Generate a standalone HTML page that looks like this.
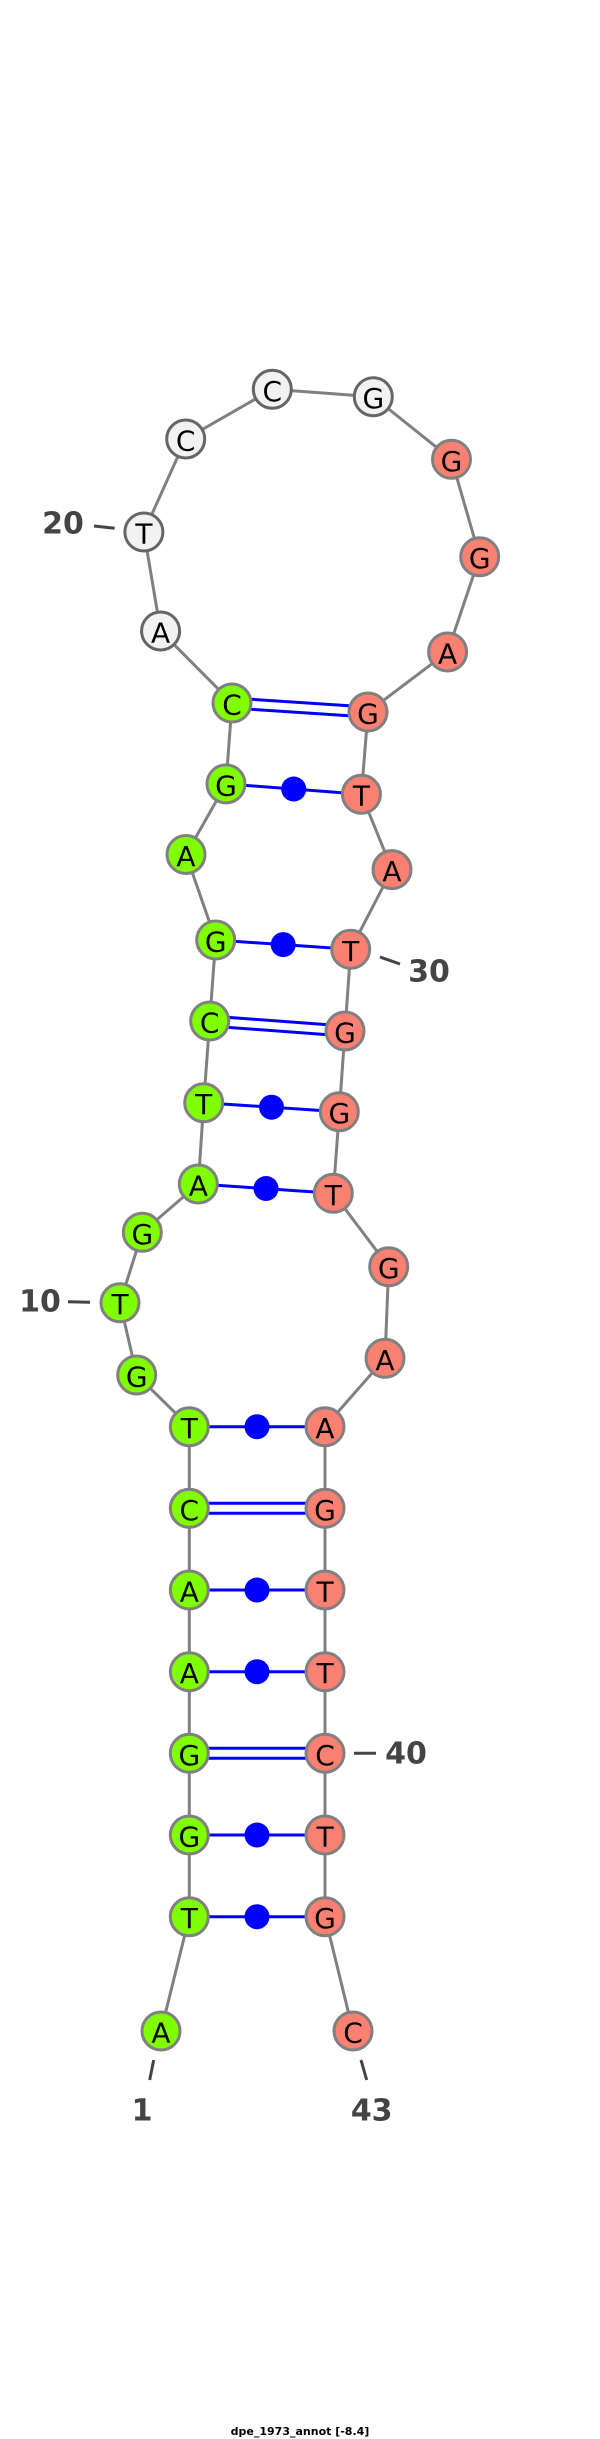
<!DOCTYPE html>
<html><head><meta charset="utf-8"><style>
html,body{margin:0;padding:0;background:#fff;}
svg{display:block;}
.n text{font-family:"DejaVu Sans","Liberation Sans",sans-serif;font-size:28px;text-anchor:middle;dominant-baseline:central;fill:#000;}
.lab{font-family:"DejaVu Sans","Liberation Sans",sans-serif;font-weight:bold;font-size:30px;fill:#444;text-anchor:middle;dominant-baseline:central;}
</style></head><body>
<svg width="600" height="2439" viewBox="0 0 600 2439" xmlns="http://www.w3.org/2000/svg">
<polyline fill="none" stroke="#808080" stroke-width="3" points="161,2031 189.3,1916.7 189.3,1835 189.3,1753.3 189.3,1671.7 189.3,1590 189.3,1508.3 189.3,1426.7 136.7,1375 120,1302.7 142.3,1232.3 198.3,1184 203.7,1102.7 209.7,1021 215.7,940 186,854.5 226,783.9 232,703 160.6,631 143.9,532 185.7,439 272.3,389.3 373.3,396.7 451.5,459.3 479.7,556.7 447.6,652 368,712 361.4,794.2 392,869.6 350.7,949.3 345,1031 339.3,1111.7 333.3,1193.3 388.7,1266.7 385,1358.3 325,1426.7 325,1508.3 325,1590 325,1671.7 325,1753.3 325,1835 325,1916.7 353,2031"/>
<g stroke="#0000ff" stroke-width="3" fill="#0000ff">
<line x1="189.3" y1="1916.7" x2="325" y2="1916.7"/><circle cx="257" cy="1916.7" r="12.5" stroke="none"/>
<line x1="189.3" y1="1835" x2="325" y2="1835"/><circle cx="257" cy="1835" r="12.5" stroke="none"/>
<line x1="189.3" y1="1748.3" x2="325" y2="1748.3"/><line x1="189.3" y1="1758.3" x2="325" y2="1758.3"/>
<line x1="189.3" y1="1671.7" x2="325" y2="1671.7"/><circle cx="257" cy="1671.7" r="12.5" stroke="none"/>
<line x1="189.3" y1="1590" x2="325" y2="1590"/><circle cx="257" cy="1590" r="12.5" stroke="none"/>
<line x1="189.3" y1="1503.3" x2="325" y2="1503.3"/><line x1="189.3" y1="1513.3" x2="325" y2="1513.3"/>
<line x1="189.3" y1="1426.7" x2="325" y2="1426.7"/><circle cx="257" cy="1426.7" r="12.5" stroke="none"/>
<line x1="198.3" y1="1184" x2="333.3" y2="1193.3"/><circle cx="266" cy="1188.5" r="12.5" stroke="none"/>
<line x1="203.7" y1="1102.7" x2="339.3" y2="1111.7"/><circle cx="271.5" cy="1107.2" r="12.5" stroke="none"/>
<line x1="209.7" y1="1016" x2="345" y2="1026"/><line x1="209.7" y1="1026" x2="345" y2="1036"/>
<line x1="215.7" y1="940" x2="350.7" y2="949.3"/><circle cx="283.2" cy="944.6" r="12.5" stroke="none"/>
<line x1="226" y1="783.9" x2="361.4" y2="794.2"/><circle cx="293.7" cy="789" r="12.5" stroke="none"/>
<line x1="232" y1="698" x2="368" y2="707"/><line x1="232" y1="708" x2="368" y2="717"/>
</g>
<g class="n" stroke-width="3">
<g stroke="#808080" fill="#7fff00">
<circle cx="161" cy="2031" r="19"/><circle cx="189.3" cy="1916.7" r="19"/><circle cx="189.3" cy="1835" r="19"/><circle cx="189.3" cy="1753.3" r="19"/><circle cx="189.3" cy="1671.7" r="19"/><circle cx="189.3" cy="1590" r="19"/><circle cx="189.3" cy="1508.3" r="19"/><circle cx="189.3" cy="1426.7" r="19"/><circle cx="136.7" cy="1375" r="19"/><circle cx="120" cy="1302.7" r="19"/><circle cx="142.3" cy="1232.3" r="19"/><circle cx="198.3" cy="1184" r="19"/><circle cx="203.7" cy="1102.7" r="19"/><circle cx="209.7" cy="1021" r="19"/><circle cx="215.7" cy="940" r="19"/><circle cx="186" cy="854.5" r="19"/><circle cx="226" cy="783.9" r="19"/><circle cx="232" cy="703" r="19"/>
</g>
<g stroke="#666" fill="#f2f2f2">
<circle cx="160.6" cy="631" r="19"/><circle cx="143.9" cy="532" r="19"/><circle cx="185.7" cy="439" r="19"/><circle cx="272.3" cy="389.3" r="19"/><circle cx="373.3" cy="396.7" r="19"/>
</g>
<g stroke="#808080" fill="#fa8072">
<circle cx="451.5" cy="459.3" r="19"/><circle cx="479.7" cy="556.7" r="19"/><circle cx="447.6" cy="652" r="19"/><circle cx="368" cy="712" r="19"/><circle cx="361.4" cy="794.2" r="19"/><circle cx="392" cy="869.6" r="19"/><circle cx="350.7" cy="949.3" r="19"/><circle cx="345" cy="1031" r="19"/><circle cx="339.3" cy="1111.7" r="19"/><circle cx="333.3" cy="1193.3" r="19"/><circle cx="388.7" cy="1266.7" r="19"/><circle cx="385" cy="1358.3" r="19"/><circle cx="325" cy="1426.7" r="19"/><circle cx="325" cy="1508.3" r="19"/><circle cx="325" cy="1590" r="19"/><circle cx="325" cy="1671.7" r="19"/><circle cx="325" cy="1753.3" r="19"/><circle cx="325" cy="1835" r="19"/><circle cx="325" cy="1916.7" r="19"/><circle cx="353" cy="2031" r="19"/>
</g>
<text x="161" y="2033">A</text><text x="189.3" y="1918.7">T</text><text x="189.3" y="1837">G</text><text x="189.3" y="1755.3">G</text><text x="189.3" y="1673.7">A</text><text x="189.3" y="1592">A</text><text x="189.3" y="1510.3">C</text><text x="189.3" y="1428.7">T</text><text x="136.7" y="1377">G</text><text x="120" y="1304.7">T</text><text x="142.3" y="1234.3">G</text><text x="198.3" y="1186">A</text><text x="203.7" y="1104.7">T</text><text x="209.7" y="1023">C</text><text x="215.7" y="942">G</text><text x="186" y="856.5">A</text><text x="226" y="785.9">G</text><text x="232" y="705">C</text>
<text x="160.6" y="633">A</text><text x="143.9" y="534">T</text><text x="185.7" y="441">C</text><text x="272.3" y="391.3">C</text><text x="373.3" y="398.7">G</text>
<text x="451.5" y="461.3">G</text><text x="479.7" y="558.7">G</text><text x="447.6" y="654">A</text><text x="368" y="714">G</text><text x="361.4" y="796.2">T</text><text x="392" y="871.6">A</text><text x="350.7" y="951.3">T</text><text x="345" y="1033">G</text><text x="339.3" y="1113.7">G</text><text x="333.3" y="1195.3">T</text><text x="388.7" y="1268.7">G</text><text x="385" y="1360.3">A</text><text x="325" y="1428.7">A</text><text x="325" y="1510.3">G</text><text x="325" y="1592">T</text><text x="325" y="1673.7">T</text><text x="325" y="1755.3">C</text><text x="325" y="1837">T</text><text x="325" y="1918.7">G</text><text x="353" y="2033">C</text>
</g>
<g stroke="#444" stroke-width="3">
<line x1="94" y1="526" x2="114.6" y2="528.3"/>
<line x1="68" y1="1301.7" x2="90" y2="1302.3"/>
<line x1="380" y1="957" x2="400" y2="964"/>
<line x1="354" y1="1753.3" x2="376" y2="1753.3"/>
<line x1="153.7" y1="2060" x2="149.7" y2="2080"/>
<line x1="361" y1="2060" x2="366.7" y2="2080"/>
</g>
<text class="lab" x="63" y="524">20</text>
<text class="lab" x="40" y="1302">10</text>
<text class="lab" x="429" y="972">30</text>
<text class="lab" x="406" y="1754">40</text>
<text class="lab" x="142" y="2111">1</text>
<text class="lab" x="371.7" y="2111">43</text>
<text x="300" y="2435" font-family="DejaVu Sans, Liberation Sans, sans-serif" font-weight="bold" font-size="11" text-anchor="middle" fill="#000">dpe_1973_annot [-8.4]</text>
</svg>
</body></html>
